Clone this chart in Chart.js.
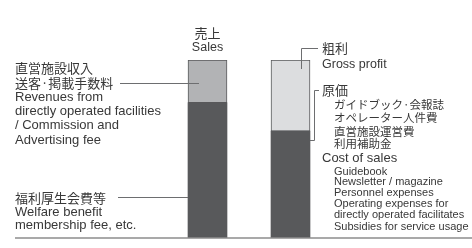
<!DOCTYPE html>
<html>
<head>
<meta charset="utf-8">
<script src="https://cdn.jsdelivr.net/npm/chart.js@4/dist/chart.umd.min.js"></script>
<style>
  html, body { margin: 0; padding: 0; background: #fff; overflow: hidden; }
  canvas { display: block; }
</style>
</head>
<body>
<canvas id="chart" width="472" height="248" style="width:472px;height:248px"></canvas>
<script>
// data (share of sales, %)
const categories = ['売上', '粗利・原価'];
const lowerValues = [76, 60];   // welfare benefit fee / cost of sales
const upperValues = [24, 40];   // facility revenues & commission / gross profit

const headTexts = ['売上', 'Sales'];
const leftUpperTexts = ['直営施設収入', '送客·掲載手数料', 'Revenues from', 'directly operated facilities', '/ Commission and', 'Advertising fee'];
const leftLowerTexts = ['福利厚生会費等', 'Welfare benefit', 'membership fee, etc.'];
const grossTexts = ['粗利', 'Gross profit'];
const costTextsJa = ['原価', 'ガイドブック·会報誌', 'オペレーター人件費', '直営施設運営費', '利用補助金'];
const costTextsEn = ['Cost of sales', 'Guidebook', 'Newsletter / magazine', 'Personnel expenses', 'Operating expenses for', 'directly operated facilitates', 'Subsidies for service usage'];

const JP = '"Noto Sans CJK JP", sans-serif';
const EN = '"Liberation Sans", Arial, sans-serif';
const DARK = '#58595b';

function txt(ctx, s, x, y, size, fam, align) {
  ctx.font = size + 'px ' + fam;
  ctx.textAlign = align || 'left';
  ctx.fillText(s, x, y);
}

function line(ctx, pts) {
  ctx.beginPath();
  ctx.moveTo(pts[0][0], pts[0][1]);
  for (let i = 1; i < pts.length; i++) ctx.lineTo(pts[i][0], pts[i][1]);
  ctx.stroke();
}

const labelsPlugin = {
  id: 'labels',
  afterDraw(chart) {
    const ctx = chart.ctx;
    const y = chart.scales.y;
    const top = chart.getDatasetMeta(1).data;
    const b0 = top[0], b1 = top[1];
    const l0 = b0.x - b0.width / 2;
    const r1 = b1.x + b1.width / 2;

    ctx.save();
    // baseline
    ctx.strokeStyle = '#8c8c8c';
    ctx.lineWidth = 1.5;
    const base = y.getPixelForValue(0);
    line(ctx, [[15, base], [chart.width, base]]);

    // leader lines
    ctx.strokeStyle = '#6d6e70';
    ctx.lineWidth = 1;
    line(ctx, [[120, 83.5], [l0 + 11, 83.5]]);
    line(ctx, [[118, 197.5], [l0, 197.5]]);
    const gx = Math.round(b1.x + 10) + 0.5;
    line(ctx, [[gx, 69], [gx, 48.5], [318, 48.5]]);
    const bx = Math.round(r1 + 4) + 0.5;
    line(ctx, [[319, 90.5], [bx, 90.5], [bx, 140.5], [r1, 140.5]]);

    // texts
    ctx.fillStyle = '#383838';
    ctx.textBaseline = 'middle';
    txt(ctx, headTexts[0], b0.x, 33, 13, JP, 'center');
    txt(ctx, headTexts[1], b0.x, 48, 12.5, EN, 'center');

    const lY = [68, 83, 97, 111, 125, 140];
    leftUpperTexts.forEach((s, i) => txt(ctx, s, 15, lY[i], 13, i < 2 ? JP : EN));
    const wY = [198, 212, 225];
    leftLowerTexts.forEach((s, i) => txt(ctx, s, 15, wY[i], 13, i < 1 ? JP : EN));

    txt(ctx, grossTexts[0], 322, 48, 13, JP);
    txt(ctx, grossTexts[1], 322, 65, 12.5, EN);

    const cjY = [90, 105, 118, 132, 144];
    costTextsJa.forEach((s, i) => txt(ctx, s, i ? 334 : 322, cjY[i], i ? 11.5 : 13, JP));
    const ceY = [158, 172, 182, 193, 204, 215, 227];
    costTextsEn.forEach((s, i) => txt(ctx, s, i ? 334 : 322, ceY[i], i ? 11 : 13, EN));
    ctx.restore();
  }
};

new Chart(document.getElementById('chart'), {
  type: 'bar',
  data: {
    labels: categories,
    datasets: [
      {
        data: lowerValues,
        backgroundColor: DARK,
        borderWidth: 0,
        barThickness: 39
      },
      {
        data: upperValues,
        backgroundColor: ['#b2b3b5', '#dcdddf'],
        borderColor: DARK,
        borderWidth: 1,
        borderSkipped: false,
        barThickness: 39
      }
    ]
  },
  options: {
    responsive: false,
    animation: false,
    devicePixelRatio: 1,
    layout: { padding: { left: 166, right: 140, top: 60, bottom: 10 } },
    plugins: { legend: { display: false }, tooltip: { enabled: false } },
    scales: {
      x: { stacked: true, display: false },
      y: { stacked: true, display: false, min: 0, max: 100 }
    }
  },
  plugins: [labelsPlugin]
});
</script>
</body>
</html>
